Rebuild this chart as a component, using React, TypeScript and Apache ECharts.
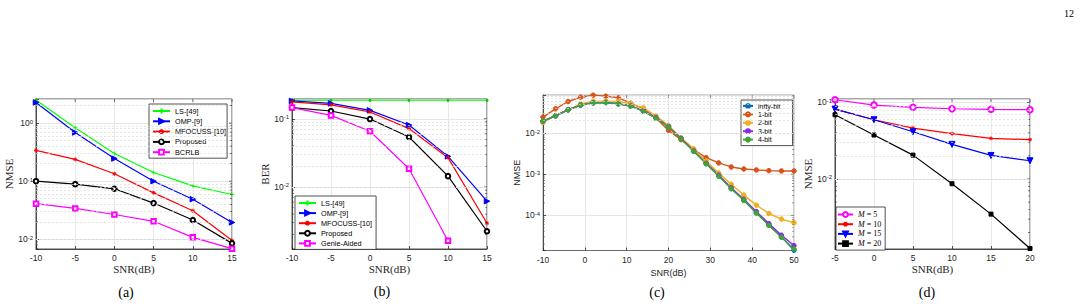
import React, { useEffect, useRef } from "react";
import * as echarts from "echarts";

// (a) channel estimation NMSE versus SNR
const snrA = [-10, -5, 0, 5, 10, 15];
const lsA = [2.5, 0.83, 0.3, 0.141, 0.083, 0.059];
const ompA = [2.27, 0.69, 0.245, 0.1, 0.049, 0.0195];
const mfocussA = [0.34, 0.237, 0.134, 0.063, 0.031, 0.0095];
const proposedA = [0.1, 0.089, 0.074, 0.042, 0.0215, 0.0085];
const bcrlbA = [0.041, 0.034, 0.0267, 0.0204, 0.0108, 0.0069];

// (b) BER versus SNR
const snrB = [-10, -5, 0, 5, 10, 15];
const lsB = [0.187, 0.187, 0.187, 0.187, 0.187, 0.187];
const ompB = [0.183, 0.168, 0.133, 0.081, 0.0281, 0.00618];
const mfocussB = [0.177, 0.16, 0.126, 0.0718, 0.0269, 0.00294];
const proposedB = [0.146, 0.13, 0.099, 0.054, 0.0144, 0.00224];
const genieB = [0.146, 0.112, 0.0655, 0.0185, 0.00163];

// (c) NMSE versus SNR for different ADC resolutions
const snrC = [-10, -7, -4, -1, 2, 5, 8, 11, 14, 17, 20, 23, 26, 29, 32, 35, 38, 41, 44, 47, 50];
const inftyBitC = [0.0195, 0.0263, 0.0367, 0.0476, 0.0542, 0.0553, 0.0513, 0.0451, 0.0341, 0.0231, 0.014, 0.0073, 0.00367, 0.00181, 0.00091, 0.000449, 0.000234, 0.000116, 5.8e-5, 3.0e-5, 1.42e-5];
const oneBitC = [0.0244, 0.0388, 0.0584, 0.0745, 0.0832, 0.0787, 0.0718, 0.0532, 0.0388, 0.0231, 0.0116, 0.0069, 0.00394, 0.00253, 0.00188, 0.0015, 0.00134, 0.00127, 0.00122, 0.0012, 0.0012];
const twoBitC = [0.0181, 0.0263, 0.0367, 0.0513, 0.0596, 0.0596, 0.0585, 0.0513, 0.041, 0.0263, 0.0153, 0.00757, 0.00418, 0.0021, 0.00107, 0.000571, 0.00031, 0.000177, 0.000111, 8.1e-5, 6.6e-5];
const threeBitC = [0.0193, 0.0262, 0.0368, 0.0478, 0.0545, 0.0556, 0.0516, 0.0455, 0.0348, 0.0238, 0.0143, 0.0075, 0.0037, 0.00185, 0.00095, 0.00047, 0.000245, 0.000124, 6.3e-5, 3.3e-5, 1.84e-5];
const fourBitC = [0.0196, 0.0264, 0.0366, 0.0475, 0.0541, 0.0551, 0.0512, 0.045, 0.034, 0.023, 0.0139, 0.0072, 0.00363, 0.0018, 0.0009, 0.000445, 0.000232, 0.000114, 5.7e-5, 2.95e-5, 1.53e-5];

// (d) NMSE versus SNR for different numbers of pilots M
const snrD = [-5, 0, 5, 10, 15, 20];
const m5D = [0.1083, 0.0923, 0.0861, 0.0826, 0.0811, 0.0802];
const m10D = [0.0818, 0.0594, 0.0462, 0.039, 0.0339, 0.0326];
const m15D = [0.0818, 0.0594, 0.0414, 0.0283, 0.0203, 0.0173];
const m20D = [0.069, 0.0375, 0.0205, 0.00867, 0.00348, 0.00124];

const SANS = '"Liberation Sans", Arial, Helvetica, sans-serif';
const SERIF = '"Liberation Serif", "Times New Roman", serif';
const AXIS = "#262626";

const PLUS = "path://M0,5H10M5,0V10";
const STAR = "path://M5,0V10M0,5H10M1.5,1.5L8.5,8.5M8.5,1.5L1.5,8.5";

type Panel = {
  left: number; top: number; width: number; height: number;
  xMin: number; xMax: number; xStep: number;
  yMin: number; yMax: number;
  yName: string; yNameGap: number; xNameGap: number;
  sans: boolean; border: string;
};

const panels: Panel[] = [
  { left: 36, top: 99, width: 196, height: 150, xMin: -10, xMax: 15, xStep: 5, yMin: 0.0068, yMax: 2.6, yName: "NMSE", yNameGap: 20, xNameGap: 13, sans: false, border: AXIS },
  { left: 292, top: 99, width: 195, height: 150, xMin: -10, xMax: 15, xStep: 5, yMin: 0.00123, yMax: 0.195, yName: "BER", yNameGap: 21, xNameGap: 13, sans: false, border: AXIS },
  { left: 543, top: 95, width: 251, height: 155.5, xMin: -10, xMax: 50, xStep: 10, yMin: 1.4e-5, yMax: 0.084, yName: "NMSE", yNameGap: 18, xNameGap: 14, sans: true, border: "#8c8c8c" },
  { left: 835, top: 99, width: 195, height: 150, xMin: -5, xMax: 20, xStep: 5, yMin: 0.00122, yMax: 0.1107, yName: "NMSE", yNameGap: 22, xNameGap: 13, sans: false, border: AXIS },
];

function decadeValues(min: number, max: number, ks: number[]) {
  const out: number[] = [];
  for (let e = Math.floor(Math.log10(min)) - 1; e <= Math.ceil(Math.log10(max)); e++) {
    for (const k of ks) {
      const v = k * Math.pow(10, e);
      if (v > min * 1.0001 && v < max * 0.9999) out.push(v);
    }
  }
  return out;
}

function xTicks(p: Panel) {
  const out: number[] = [];
  for (let x = p.xMin; x <= p.xMax + 1e-9; x += p.xStep) out.push(x);
  return out;
}

function expFormatter(v: number) {
  const e = Math.log10(v);
  const r = Math.round(e);
  if (Math.abs(e - r) > 1e-6) return "";
  return `{b|10}{s|${r}}`;
}

function pts(xs: number[], ys: number[]) {
  return ys.map((y, i) => [xs[i], y]);
}

function line(name: string, idx: number, xs: number[], ys: number[], color: string, symbol: string, size: number, extra: any = {}) {
  return {
    type: "line",
    name,
    xAxisIndex: idx,
    yAxisIndex: idx,
    data: pts(xs, ys),
    color,
    symbol,
    symbolSize: size,
    showSymbol: true,
    lineStyle: { color, width: 1.2 },
    itemStyle: { color, borderColor: color, borderWidth: 1 },
    z: 2,
    ...extra,
  };
}

// Light major/minor grid lines and the inner tick marks on all four sides.
function frameSeries(p: Panel, idx: number) {
  const minors = decadeValues(p.yMin, p.yMax, [2, 3, 4, 5, 6, 7, 8, 9]);
  const majors = decadeValues(p.yMin, p.yMax, [1]);
  const common = { xAxisIndex: idx, yAxisIndex: idx, silent: true, animation: false };
  const tick = (data: number[][], size: number[], offset: number[]) => ({
    ...common,
    type: "scatter",
    symbol: "rect",
    symbolSize: size,
    symbolOffset: offset,
    clip: false,
    itemStyle: { color: p.border === AXIS ? AXIS : "#555" },
    data,
    z: 3,
  });
  return [
    {
      ...common,
      type: "line",
      data: [],
      z: 1,
      markLine: {
        silent: true,
        symbol: ["none", "none"],
        label: { show: false },
        animation: false,
        data: minors.map((v) => ({ yAxis: v, lineStyle: { type: [2, 2], color: "#dadada", width: 0.7 } })),
      },
    },
    tick(minors.map((v) => [p.xMin, v]), [2, 0.7], [1, 0]),
    tick(minors.map((v) => [p.xMax, v]), [2, 0.7], [-1, 0]),
    tick(majors.map((v) => [p.xMax, v]), [3, 0.8], [-1.5, 0]),
    tick(xTicks(p).map((x) => [x, p.yMax]), [0.8, 3], [0, 1.5]),
  ];
}

function legend(left: number, top: number, names: string[], o: any) {
  return {
    left,
    top,
    orient: "vertical",
    data: names,
    selectedMode: false,
    itemWidth: o.itemWidth,
    itemHeight: o.itemHeight ?? 6,
    itemGap: o.itemGap,
    padding: o.padding,
    backgroundColor: "#fff",
    borderColor: "#262626",
    borderWidth: 0.8,
    borderRadius: 0,
    formatter: o.formatter,
    textStyle: {
      fontFamily: o.fontFamily ?? SANS,
      fontSize: o.fontSize,
      lineHeight: o.lineHeight,
      color: "#000",
      rich: o.rich,
    },
  };
}

export default function App() {
  const ref = useRef<HTMLDivElement>(null);

  useEffect(() => {
    if (!ref.current) return;
    const chart = echarts.init(ref.current, undefined, { renderer: "svg" });

    const grid = panels.map((p) => ({
      left: p.left, top: p.top, width: p.width, height: p.height,
      show: true, borderColor: p.border, borderWidth: 0.8, backgroundColor: "transparent",
    }));

    const xAxis = panels.map((p, i) => ({
      type: "value",
      gridIndex: i,
      min: p.xMin,
      max: p.xMax,
      interval: p.xStep,
      name: "SNR(dB)",
      nameLocation: "middle",
      nameGap: p.xNameGap,
      nameTextStyle: { fontFamily: p.sans ? SANS : SERIF, fontSize: p.sans ? 9 : 11, color: AXIS },
      axisLine: { show: true, onZero: false, lineStyle: { color: p.sans ? "#555" : AXIS, width: 0.8 } },
      axisTick: { show: true, inside: true, length: 3, lineStyle: { color: AXIS, width: 0.8 } },
      axisLabel: { margin: 4.5, fontFamily: SANS, fontSize: 8.5, color: AXIS },
      splitLine: { show: true, lineStyle: { color: "#e3e3e3", width: 0.8 } },
    }));

    const yAxis = panels.map((p, i) => ({
      type: "log",
      logBase: 10,
      gridIndex: i,
      min: p.yMin,
      max: p.yMax,
      name: p.yName,
      nameLocation: "middle",
      nameGap: p.yNameGap,
      nameTextStyle: { fontFamily: p.sans ? SANS : SERIF, fontSize: p.sans ? 9 : 11, color: AXIS },
      axisLine: { show: true, onZero: false, lineStyle: { color: AXIS, width: 0.8 } },
      axisTick: { show: true, inside: true, length: 3, lineStyle: { color: AXIS, width: 0.8 } },
      axisLabel: {
        margin: 3,
        formatter: expFormatter,
        rich: {
          b: { fontFamily: SANS, fontSize: 8.5, color: AXIS, lineHeight: 9, verticalAlign: "bottom" },
          s: { fontFamily: SANS, fontSize: 6, color: AXIS, lineHeight: 5, padding: [0, 0, 6, 0], verticalAlign: "top" },
        },
      },
      splitLine: { show: true, lineStyle: { color: "#e0e0e0", width: 0.8 } },
    }));

    const series: any[] = [];
    panels.forEach((p, i) => series.push(...frameSeries(p, i)));

    series.push(
      line("LS-[49]", 0, snrA, lsA, "#00ff00", PLUS, 4),
      line("OMP-[9]", 0, snrA, ompA, "#0000ff", "triangle", 5.5, { symbolRotate: -90 }),
      line("MFOCUSS-[10]", 0, snrA, mfocussA, "#ff0000", STAR, 4),
      line("Proposed", 0, snrA, proposedA, "#000000", "emptyCircle", 4.5),
      line("BCRLB", 0, snrA, bcrlbA, "#ff00ff", "emptyRect", 4.5),

      line("LS-[49]", 1, snrB, lsB, "#00ff00", PLUS, 4),
      line("OMP-[9]", 1, snrB, ompB, "#0000ff", "triangle", 5.5, { symbolRotate: -90 }),
      line("MFOCUSS-[10]", 1, snrB, mfocussB, "#ff0000", STAR, 4),
      line("Proposed", 1, snrB, proposedB, "#000000", "emptyCircle", 4.5),
      line("Genie-Aided", 1, snrB, genieB, "#ff00ff", "emptyRect", 4.5),

      line("infty-bit", 2, snrC, inftyBitC, "#0072BD", "circle", 4.5, { lineStyle: { color: "#0072BD", width: 1.4 } }),
      line("1-bit", 2, snrC, oneBitC, "#D95319", "circle", 4.5, { lineStyle: { color: "#D95319", width: 1.4 } }),
      line("2-bit", 2, snrC, twoBitC, "#EDB120", "circle", 4.5, { lineStyle: { color: "#EDB120", width: 1.4 } }),
      line("3-bit", 2, snrC, threeBitC, "#8A2BE2", "circle", 4.5, { lineStyle: { color: "#8A2BE2", width: 1.4 } }),
      line("4-bit", 2, snrC, fourBitC, "#3FA535", "circle", 4.5, { lineStyle: { color: "#3FA535", width: 1.4 } }),

      line("M = 5", 3, snrD, m5D, "#ff00ff", "emptyCircle", 5.5),
      line("M = 10", 3, snrD, m10D, "#ff0000", STAR, 4),
      line("M = 15", 3, snrD, m15D, "#0000ff", "triangle", 6, { symbolRotate: 180 }),
      line("M = 20", 3, snrD, m20D, "#000000", "rect", 4),
    );

    const legends = [
      legend(149, 104, ["LS-[49]", "OMP-[9]", "MFOCUSS-[10]", "Proposed", "BCRLB"], {
        itemWidth: 17, itemGap: 0.3, padding: [2, 1, 1, 3], fontSize: 7.3, lineHeight: 10,
      }),
      legend(295, 196, ["LS-[49]", "OMP-[9]", "MFOCUSS-[10]", "Proposed", "Genie-Aided"], {
        itemWidth: 17, itemGap: 0.1, padding: [2, 4, 1, 3], fontSize: 7.3, lineHeight: 10,
      }),
      legend(741, 100, ["infty-bit", "1-bit", "2-bit", "3-bit", "4-bit"], {
        itemWidth: 10, itemHeight: 5, itemGap: 0.4, padding: [2, 12, 2, 1], fontSize: 7, lineHeight: 8,
      }),
      legend(836, 207, ["M = 5", "M = 10", "M = 15", "M = 20"], {
        itemWidth: 15, itemGap: 0.7, padding: [3, 4, 2, 1], fontSize: 8, lineHeight: 9, fontFamily: SERIF,
        formatter: (n: string) => n.replace("M", "{i|M}"),
        rich: { i: { fontFamily: SERIF, fontStyle: "italic", fontSize: 8 } },
      }),
    ];

    const panelLabel = (text: string, x: number, y: number) => ({
      type: "text",
      x,
      y,
      style: { text, font: `14px ${SERIF}`, fill: "#000", align: "center", verticalAlign: "middle" },
    });

    chart.setOption({
      animation: false,
      grid,
      xAxis,
      yAxis,
      legend: legends,
      series,
      graphic: [
        panelLabel("(a)", 126, 292),
        panelLabel("(b)", 382, 291),
        panelLabel("(c)", 657, 292),
        panelLabel("(d)", 927, 292),
        {
          type: "text",
          x: 1069,
          y: 13,
          style: { text: "12", font: `10px ${SERIF}`, fill: "#000", align: "center", verticalAlign: "middle" },
        },
      ],
    });

    return () => chart.dispose();
  }, []);

  return <div ref={ref} style={{ position: "fixed", left: 0, top: 0, width: 1082, height: 305, background: "#fff" }} />;
}
